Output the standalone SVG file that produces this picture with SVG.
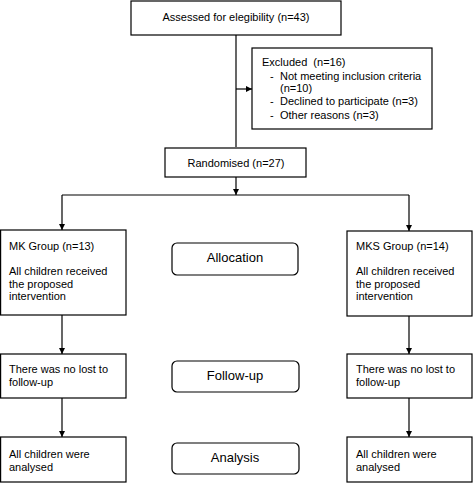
<svg xmlns="http://www.w3.org/2000/svg" width="473" height="483" viewBox="0 0 473 483">
<defs>
<marker id="ah" markerWidth="6" markerHeight="6" refX="6" refY="3" orient="auto" markerUnits="userSpaceOnUse">
<path d="M0,0 L6,3 L0,6 Z" fill="#000"/>
</marker>
<style>
.box{fill:#fff;stroke:#000;stroke-width:1.2}
.t{font-family:"Liberation Sans",Arial,sans-serif;font-size:11px;fill:#000}
.big{font-family:"Liberation Sans",Arial,sans-serif;font-size:13px;fill:#000;text-anchor:middle}
.c{text-anchor:middle}
.ln{fill:none;stroke:#000;stroke-width:1.2}
</style>
</defs>
<rect width="473" height="483" fill="#fff"/>
<g id="connectors">
<path class="ln" d="M236,35 V147"/>
<path class="ln" d="M236,89 H252" marker-end="url(#ah)"/>
<path class="ln" d="M236,177 V195" marker-end="url(#ah)"/>
<path class="ln" d="M62,195 H409"/>
<path class="ln" d="M62,195 V230" marker-end="url(#ah)"/>
<path class="ln" d="M409,195 V231" marker-end="url(#ah)"/>
<path class="ln" d="M62,315 V354" marker-end="url(#ah)"/>
<path class="ln" d="M409,316 V354" marker-end="url(#ah)"/>
<path class="ln" d="M62,398 V437" marker-end="url(#ah)"/>
<path class="ln" d="M409,398 V437" marker-end="url(#ah)"/>
</g>
<g id="assessed">
<rect class="box" x="131" y="1" width="210" height="34"/>
<text class="t c" x="236" y="21">Assessed for elegibility (n=43)</text>
</g>
<g id="excluded">
<rect class="box" x="252" y="48" width="180" height="81"/>
<text class="t" x="262" y="66" xml:space="preserve">Excluded  (n=16)</text>
<text class="t" x="270" y="80">-</text>
<text class="t" x="280" y="80">Not meeting inclusion criteria</text>
<text class="t" x="280" y="92">(n=10)</text>
<text class="t" x="270" y="105">-</text>
<text class="t" x="280" y="105">Declined to participate (n=3)</text>
<text class="t" x="270" y="119">-</text>
<text class="t" x="280" y="119">Other reasons (n=3)</text>
</g>
<g id="randomised">
<rect class="box" x="165" y="148" width="141" height="29"/>
<text class="t c" x="236" y="167">Randomised (n=27)</text>
</g>
<g id="mk">
<rect class="box" x="0.6" y="230" width="125.4" height="85"/>
<text class="t" x="9" y="250">MK Group (n=13)</text>
<text class="t" x="9" y="275">All children received</text>
<text class="t" x="9" y="288">the proposed</text>
<text class="t" x="9" y="300">intervention</text>
</g>
<g id="mks">
<rect class="box" x="347" y="231" width="125" height="85"/>
<text class="t" x="356" y="250">MKS Group (n=14)</text>
<text class="t" x="356" y="275">All children received</text>
<text class="t" x="356" y="288">the proposed</text>
<text class="t" x="356" y="300">intervention</text>
</g>
<g id="allocation">
<rect class="box" x="172" y="243" width="126" height="32" rx="5"/>
<text class="big" x="235" y="262">Allocation</text>
</g>
<g id="mk-follow">
<rect class="box" x="0.6" y="354" width="125.4" height="44"/>
<text class="t" x="9" y="373">There was no lost to</text>
<text class="t" x="9" y="386">follow-up</text>
</g>
<g id="mks-follow">
<rect class="box" x="347" y="354" width="125" height="44"/>
<text class="t" x="356" y="373">There was no lost to</text>
<text class="t" x="356" y="386">follow-up</text>
</g>
<g id="followup">
<rect class="box" x="172" y="361" width="127" height="31" rx="5"/>
<text class="big" x="235" y="380">Follow-up</text>
</g>
<g id="mk-analysis">
<rect class="box" x="0.6" y="437" width="125.4" height="45"/>
<text class="t" x="9" y="458">All children were</text>
<text class="t" x="9" y="471">analysed</text>
</g>
<g id="mks-analysis">
<rect class="box" x="347" y="437" width="125" height="45"/>
<text class="t" x="356" y="458">All children were</text>
<text class="t" x="356" y="471">analysed</text>
</g>
<g id="analysis">
<rect class="box" x="172" y="443" width="127" height="31" rx="5"/>
<text class="big" x="235" y="462">Analysis</text>
</g>
</svg>
